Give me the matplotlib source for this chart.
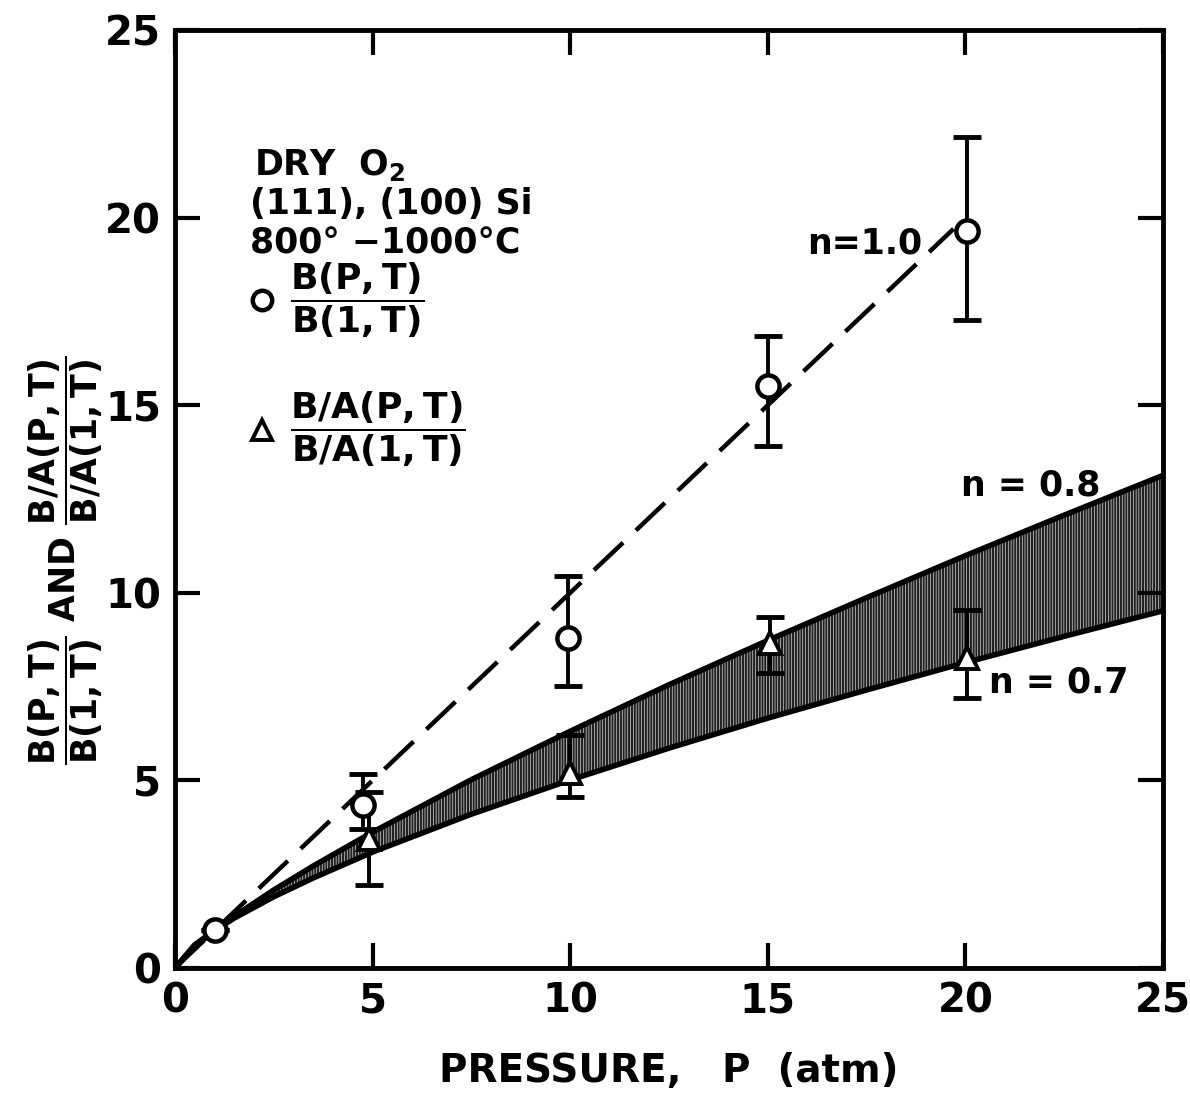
import matplotlib
matplotlib.use("Agg")
import matplotlib.pyplot as plt
import numpy as np

plt.rcParams['font.family'] = ['DejaVu Sans']
plt.rcParams['mathtext.fontset'] = 'dejavusans'
plt.rcParams['hatch.linewidth'] = 1.6

# Data
circ_P = [1.0, 4.75, 9.95, 15.0, 20.05]
circ_R = [1.0, 4.35, 8.8, 15.5, 19.65]
circ_lo = [1.0, 3.7, 7.52, 13.9, 17.28]
circ_hi = [1.0, 5.17, 10.45, 16.85, 22.15]

tri_P = [4.92, 10.0, 15.06, 20.05]
tri_R = [3.45, 5.2, 8.65, 8.25]
tri_lo = [2.2, 4.55, 7.87, 7.2]
tri_hi = [4.7, 6.2, 9.36, 9.55]

# model curves
curve_P = [0, 0.5, 1, 1.5, 2.5, 3.5, 5, 7.5, 10, 12.5, 15, 17.5, 20, 22.5, 25]
n08 = [0, 0.57, 1, 1.38, 2.08, 2.72, 3.62, 5.02, 6.31, 7.55, 8.73, 9.87, 10.99, 12.07, 13.13]
n07 = [0, 0.62, 1, 1.33, 1.90, 2.40, 3.09, 4.10, 5.01, 5.86, 6.66, 7.41, 8.14, 8.84, 9.52]
dash_P = [0, 19.7]
dash_R = [0, 19.7]

xticks = [0, 5, 10, 15, 20, 25]
yticks = [0, 5, 10, 15, 20, 25]

fig = plt.figure(figsize=(11.9, 10.98), dpi=100)
ax = fig.add_axes([175/1190, 1-968/1098, (1163-175)/1190, (968-30)/1098])
ax.set_xlim(0, 25)
ax.set_ylim(0, 25)

# band
ax.fill_between(curve_P, n07, n08, facecolor='white', edgecolor='#222222',
                hatch='||||||', linewidth=0, zorder=1)
ax.plot(curve_P, n08, color='black', lw=4, zorder=2)
ax.plot(curve_P, n07, color='black', lw=4, zorder=2)
ax.plot(dash_P, dash_R, color='black', lw=3.2, dashes=(9, 4), zorder=2)

# error bars
circ_err = [np.array(circ_R) - np.array(circ_lo), np.array(circ_hi) - np.array(circ_R)]
tri_err = [np.array(tri_R) - np.array(tri_lo), np.array(tri_hi) - np.array(tri_R)]
ax.errorbar(circ_P, circ_R, yerr=circ_err, fmt='none', ecolor='black',
            elinewidth=2.8, capsize=10, capthick=3.5, zorder=3)
ax.errorbar(tri_P, tri_R, yerr=tri_err, fmt='none', ecolor='black',
            elinewidth=2.8, capsize=10, capthick=3.5, zorder=3)
ax.plot(circ_P, circ_R, 'o', ms=16, mfc='white', mec='black', mew=3.2, zorder=4)
ax.plot(tri_P, tri_R, '^', ms=16, mfc='white', mec='black', mew=2.8, zorder=4)

# axes style
for s in ax.spines.values():
    s.set_linewidth(3.5)
ax.set_xticks(xticks)
ax.set_yticks(yticks)
ax.tick_params(direction='in', length=18, width=3, labelsize=29, pad=10,
               top=True, right=True)
for lab in ax.get_xticklabels() + ax.get_yticklabels():
    lab.set_fontweight('bold')

ax.set_xlabel('PRESSURE,   P  (atm)', fontsize=28, fontweight='bold', labelpad=22)

fig.text(66/1190, 1-560/1098,
         r'$\mathbf{\dfrac{B(P,T)}{B(1,T)}}$ AND $\mathbf{\dfrac{B/A(P,T)}{B/A(1,T)}}$',
         rotation=90, fontsize=25, fontweight='bold', ha='center', va='center')

# annotations
ax.text(2.0, 21.4, r'DRY  O$_\mathbf{2}$', fontsize=25, fontweight='bold', va='center')
ax.text(1.9, 20.35, '(111), (100) Si', fontsize=25, fontweight='bold', va='center')
ax.text(1.9, 19.3, '800° −1000°C', fontsize=25, fontweight='bold', va='center')

ax.plot([2.2], [17.8], 'o', ms=14, mfc='white', mec='black', mew=3.2)
ax.text(2.9, 17.8, r'$\mathbf{\dfrac{B(P,T)}{B(1,T)}}$', fontsize=26, va='center')
ax.plot([2.2], [14.35], '^', ms=14, mfc='white', mec='black', mew=2.8)
ax.text(2.9, 14.35, r'$\mathbf{\dfrac{B/A(P,T)}{B/A(1,T)}}$', fontsize=26, va='center')

ax.text(16.0, 19.3, 'n=1.0', fontsize=25, fontweight='bold', va='center')
ax.text(19.9, 12.85, 'n = 0.8', fontsize=25, fontweight='bold', va='center')
ax.text(20.6, 7.6, 'n = 0.7', fontsize=25, fontweight='bold', va='center')

fig.savefig('out.png', dpi=100)
